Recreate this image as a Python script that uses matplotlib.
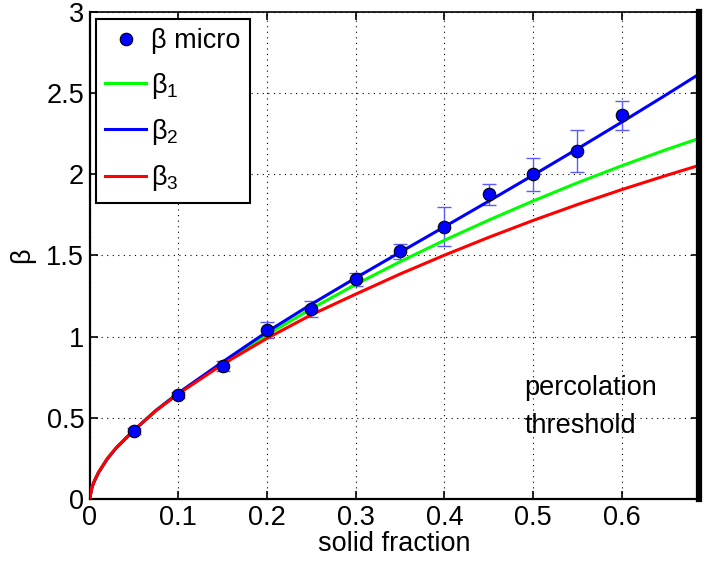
import numpy as np
import matplotlib
matplotlib.use('Agg')
import matplotlib.pyplot as plt

plt.rcParams['font.family'] = ['Liberation Sans', 'DejaVu Sans']
plt.rcParams['mathtext.fontset'] = 'custom'
plt.rcParams['mathtext.rm'] = 'Liberation Sans'
plt.rcParams['mathtext.it'] = 'Liberation Sans'

# micro-scale measurements
phi_micro = [0.05, 0.1, 0.15, 0.2, 0.25, 0.3, 0.35, 0.4, 0.45, 0.5, 0.55, 0.6]
beta_micro = [0.42, 0.64, 0.82, 1.04, 1.17, 1.355, 1.525, 1.677, 1.878, 2.0, 2.143, 2.364]
beta_err = [0.02, 0.02, 0.03, 0.05, 0.05, 0.04, 0.045, 0.12, 0.065, 0.1, 0.13, 0.09]

# model curves
phi = [0, 0.0025, 0.005, 0.01, 0.02, 0.03, 0.05, 0.075, 0.1, 0.15, 0.2, 0.25,
       0.3, 0.35, 0.4, 0.45, 0.5, 0.55, 0.6, 0.65, 0.687]
beta1 = [0, 0.072, 0.108, 0.165, 0.25, 0.316, 0.425, 0.547, 0.652, 0.838, 1.012, 1.172,
         1.322, 1.462, 1.594, 1.718, 1.836, 1.948, 2.053, 2.152, 2.221]
beta2 = [0, 0.07, 0.106, 0.163, 0.248, 0.315, 0.424, 0.547, 0.653, 0.845, 1.03, 1.2,
         1.362, 1.52, 1.677, 1.835, 1.995, 2.157, 2.322, 2.49, 2.617]
beta3 = [0, 0.072, 0.108, 0.165, 0.25, 0.316, 0.425, 0.545, 0.648, 0.83, 0.99, 1.135,
         1.262, 1.386, 1.502, 1.612, 1.716, 1.814, 1.906, 1.993, 2.055]

threshold = 0.687

fig = plt.figure(figsize=(7.03, 5.63), dpi=100)
ax = fig.add_axes([0.1276, 0.1137, 0.9943 - 0.1276, 0.9787 - 0.1137])

fs = 19.5

ax.errorbar(phi_micro, beta_micro, yerr=beta_err, fmt='none', ecolor='#5a5aff',
            elinewidth=1.0, capsize=5, capthick=1.0, zorder=3)
ax.plot(phi, beta1, color=(0, 1, 0), lw=2.2, label='β$_1$', zorder=4)
ax.plot(phi, beta2, color=(0, 0, 1), lw=2.2, label='β$_2$', zorder=4)
ax.plot(phi, beta3, color=(1, 0, 0), lw=2.2, label='β$_3$', zorder=4)
ax.plot(phi_micro, beta_micro, 'o', color='blue', mec='black', mew=0.8, ms=9,
        label='β micro', zorder=5)

ax.axvline(threshold, color='black', lw=4.5, clip_on=False, zorder=6)
ax.text(0.49, 0.685, 'percolation', fontsize=fs, va='center', ha='left')
ax.text(0.49, 0.45, 'threshold', fontsize=fs, va='center', ha='left')

ax.set_xlim(0, threshold)
ax.set_ylim(0, 3)
ax.set_xticks([0, 0.1, 0.2, 0.3, 0.4, 0.5, 0.6])
ax.set_xticklabels(['0', '0.1', '0.2', '0.3', '0.4', '0.5', '0.6'])
ax.set_yticks([0, 0.5, 1, 1.5, 2, 2.5, 3])
ax.set_yticklabels(['0', '0.5', '1', '1.5', '2', '2.5', '3'])
ax.tick_params(direction='in', length=6, width=1.2, labelsize=fs,
               top=True, right=True, pad=4)
ax.grid(True, color='black', linestyle=(0, (1, 4)), linewidth=0.8)
for s in ['left', 'bottom']:
    ax.spines[s].set_linewidth(1.6)
ax.spines['top'].set_linewidth(1.2)
ax.spines['right'].set_linewidth(1.2)

ax.set_xlabel('solid fraction', fontsize=fs, labelpad=0)
ax.set_ylabel('β', fontsize=fs, labelpad=8)

handles, labels = ax.get_legend_handles_labels()
order = [3, 0, 1, 2]
leg = ax.legend([handles[i] for i in order], [labels[i] for i in order],
                loc='upper left', bbox_to_anchor=(0.0103, 0.986), borderaxespad=0,
                fontsize=fs, fancybox=False, framealpha=1, edgecolor='black',
                handlelength=1.5, handletextpad=0.2, labelspacing=0.6,
                borderpad=0.35, numpoints=1)
leg.get_frame().set_linewidth(1.5)
leg.set_zorder(10)

fig.savefig('out.png', dpi=100)
